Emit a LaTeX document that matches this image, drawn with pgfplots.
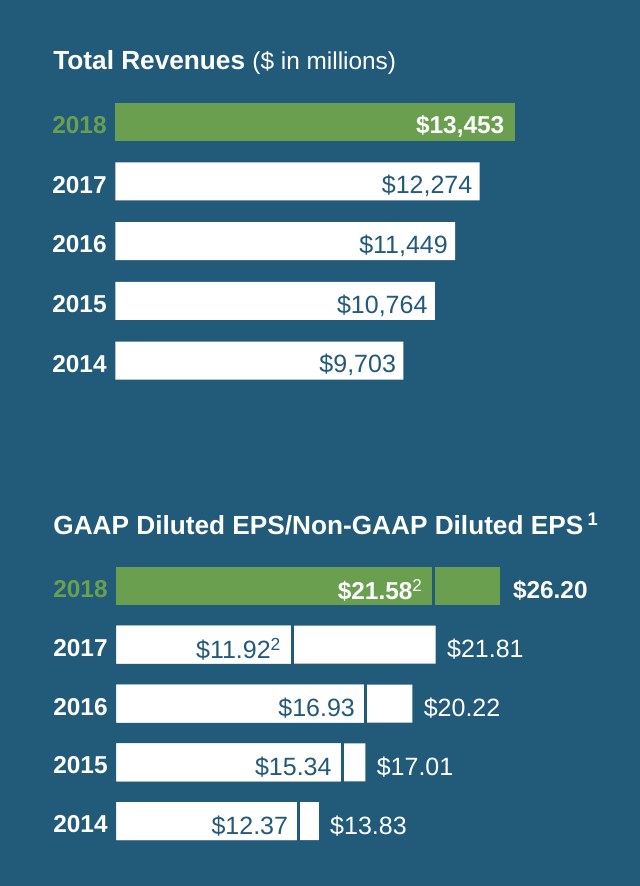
\documentclass[border=0pt]{standalone}
\usepackage{fontspec}
\setmainfont{Liberation Sans}
\usepackage{pgfplots}
\usepackage{pgfplotstable}
\pgfplotsset{compat=1.18}
\definecolor{bgc}{RGB}{34,90,122}
\definecolor{grn}{RGB}{106,159,80}
\newcommand{\lblfont}{\fontsize{12.5}{14}\selectfont}
\newcommand{\blblfont}{\fontsize{12.2}{14}\selectfont\bfseries}
\pgfplotsset{
  mybase/.style={
    scale only axis, clip=false,
    axis line style={draw=none}, tick style={draw=none},
    major tick length=0pt,
    xtick=\empty,
    ytick={0,1,2,3,4},
    yticklabels={2014,2015,2016,2017,\textcolor{grn}{2018}},
    yticklabel style={font=\blblfont, text=white, inner sep=0pt, xshift=-4.15pt, yshift=-1.6pt},
    ymin=-0.5, ymax=4.5,
    every node near coord/.append style={inner sep=0pt},
  },
}
\begin{document}
\begin{tikzpicture}
\fill[bgc] (0,0) rectangle (320pt,443pt);
% Titles
\node[anchor=base west, inner sep=0pt, text=white, font=\fontsize{13.1}{15}\selectfont\bfseries] at (26.5pt,408.35pt)
  {Total Revenues {\mdseries\fontsize{12.2}{14}\selectfont (\$ in millions)}};
\node[anchor=base west, inner sep=0pt, text=white, font=\fontsize{13.1}{15}\selectfont\bfseries] at (26.5pt,175.75pt)
  {GAAP Diluted EPS/Non-GAAP Diluted EPS\,\textsuperscript{1}};

% Total revenues
\begin{axis}[mybase,
  at={(57.65pt,247.8pt)}, anchor=south west,
  width=207.8pt, height=149.25pt,
  xmin=0, xmax=14000,
]
\addplot[xbar, bar width=19pt, bar shift=0pt, fill=white, draw=none,
  point meta=explicit symbolic,
  nodes near coords={\$\pgfplotspointmeta},
  nodes near coords style={anchor=east, xshift=-3.5pt, yshift=-2.3pt, text=bgc, font=\lblfont}]
  coordinates {(9703,0) [9,703] (10764,1) [10,764] (11449,2) [11,449] (12274,3) [12,274]};
\addplot[xbar, bar width=19pt, bar shift=0pt, fill=grn, draw=none,
  point meta=explicit symbolic,
  nodes near coords={\$\pgfplotspointmeta},
  nodes near coords style={anchor=east, xshift=-5pt, yshift=-2.3pt, text=white, font=\blblfont}]
  coordinates {(13453,4) [13,453]};
\end{axis}

% EPS
\begin{axis}[mybase,
  at={(58.15pt,17.7pt)}, anchor=south west,
  width=205.03pt, height=147.1pt,
  xmin=0, xmax=28,
]
% Non-GAAP (full length)
\addplot[xbar, bar width=19pt, bar shift=0pt, fill=white, draw=none,
  point meta=explicit symbolic,
  nodes near coords={\$\pgfplotspointmeta},
  nodes near coords style={anchor=west, xshift=5.5pt, yshift=-2.3pt, text=white, font=\lblfont}]
  coordinates {(13.83,0) [13.83] (17.01,1) [17.01] (20.22,2) [20.22] (21.81,3) [21.81]};
\addplot[xbar, bar width=19pt, bar shift=0pt, fill=grn, draw=none,
  point meta=explicit symbolic,
  nodes near coords={\$\pgfplotspointmeta},
  nodes near coords style={anchor=west, xshift=6.3pt, yshift=-2.3pt, text=white, font=\blblfont}]
  coordinates {(26.20,4) [26.20]};
% GAAP
\addplot[xbar, bar width=19pt, bar shift=0pt, fill=white, draw=none,
  point meta=explicit symbolic,
  nodes near coords={\$\pgfplotspointmeta},
  nodes near coords style={anchor=east, xshift=-4.5pt, yshift=-2.3pt, text=bgc, font=\lblfont}]
  coordinates {(12.37,0) [12.37] (15.34,1) [15.34] (16.93,2) [16.93] (11.92,3) [11.92\textsuperscript{2}]};
\addplot[xbar, bar width=19pt, bar shift=0pt, fill=grn, draw=none,
  point meta=explicit symbolic,
  nodes near coords={\$\pgfplotspointmeta},
  nodes near coords style={anchor=east, xshift=-4.5pt, yshift=-2.3pt, text=white, font=\blblfont}]
  coordinates {(21.58,4) [21.58\textsuperscript{\mdseries 2}]};
% separators between GAAP and non-GAAP segments
\addplot[only marks, mark=|, mark size=10pt,
  mark options={line width=1.4pt, draw=bgc, xshift=0.65pt}]
  coordinates {(12.37,0) (15.34,1) (16.93,2) (11.92,3) (21.58,4)};
\end{axis}
\pgfresetboundingbox
\path[use as bounding box] (0,0) rectangle (320pt,443pt);
\end{tikzpicture}
\end{document}
